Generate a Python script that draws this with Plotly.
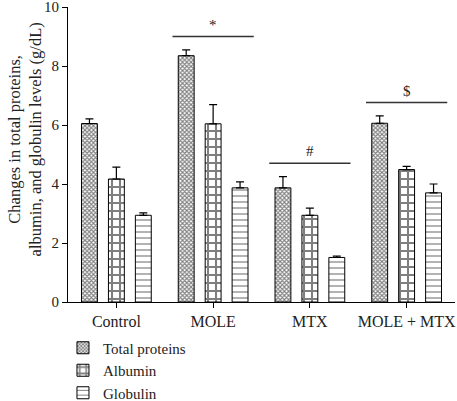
import plotly.graph_objects as go

categories = ["Control", "MOLE", "MTX", "MOLE + MTX"]
series_names = ["Total proteins", "Albumin", "Globulin"]
total_proteins = [6.05, 8.35, 3.87, 6.06]
total_proteins_err = [0.16, 0.2, 0.38, 0.25]
albumin = [4.17, 6.04, 2.94, 4.49]
albumin_err = [0.4, 0.65, 0.24, 0.11]
globulin = [2.94, 3.87, 1.51, 3.70]
globulin_err = [0.08, 0.2, 0.05, 0.3]
y_ticks = [0, 2, 4, 6, 8, 10]
sig_labels = ["*", "#", "$"]
sig_groups = [1, 2, 3]
y_title = "Changes in total proteins,<br>albumin, and globulin levels (g/dL)"

FONT = "Liberation Serif"

values = [total_proteins, albumin, globulin]
errors = [total_proteins_err, albumin_err, globulin_err]
patterns = [
    dict(shape="x", size=3, solidity=0.6, fgcolor="#000", bgcolor="#fff"),
    dict(shape="+", size=8, solidity=0.45, fgcolor="#000", bgcolor="#fff"),
    dict(shape="-", size=6, solidity=0.2, fgcolor="#000", bgcolor="#fff"),
]

fig = go.Figure()
for name, v, e, p in zip(series_names, values, errors, patterns):
    fig.add_trace(go.Bar(
        x=categories, y=v, name=name,
        marker=dict(color="#fff", line=dict(color="#000", width=1), pattern=p),
        error_y=dict(type="data", array=e, arrayminus=[0] * len(e), symmetric=False,
                     color="#000", thickness=1.2, width=4),
    ))

# significance markers
for lab, g in zip(sig_labels, sig_groups):
    top = max(values[0][g] + errors[0][g], values[1][g] + errors[1][g])
    yl = top + 0.45
    fig.add_shape(type="line", xref="x", yref="y", x0=g - 0.42, x1=g + 0.42, y0=yl, y1=yl,
                  line=dict(color="#333", width=1.5))
    fig.add_annotation(x=g, y=yl, xref="x", yref="y", text=lab, showarrow=False,
                       yanchor="bottom", yshift=2, font=dict(family=FONT, size=15, color="#222"))

# y-axis title as rotated annotation
fig.add_annotation(text=y_title, xref="paper", yref="paper", x=-0.112, y=0.55,
                   xanchor="center", yanchor="middle", textangle=-90, showarrow=False,
                   font=dict(family=FONT, size=16.5, color="#222"))

fig.update_layout(
    width=457, height=401,
    margin=dict(l=68, r=2, t=7, b=99, autoexpand=False),
    paper_bgcolor="#fff", plot_bgcolor="#fff",
    barmode="group", bargap=0.165, bargroupgap=0.41,
    font=dict(family=FONT, size=16, color="#222"),
    showlegend=True,
    legend=dict(orientation="v", x=-0.013, xanchor="left", y=-0.1, yanchor="top",
                font=dict(family=FONT, size=15, color="#222"),
                tracegroupgap=0, itemwidth=30, bgcolor="rgba(0,0,0,0)"),
    xaxis=dict(showline=True, linecolor="#000", linewidth=1, ticks="outside", ticklen=5,
               tickcolor="#000", showgrid=False, zeroline=False,
               tickfont=dict(family=FONT, size=16, color="#222")),
    yaxis=dict(range=[0, 10.001], tickvals=y_ticks, showline=True, linecolor="#000", linewidth=1,
               ticks="outside", ticklen=5, tickcolor="#000", showgrid=False, zeroline=False,
               ticklabeloverflow="allow",
               tickfont=dict(family=FONT, size=15, color="#222")),
)

fig.write_html("out.html", config={"displayModeBar": False},
               post_script="document.body.style.margin='0';")
